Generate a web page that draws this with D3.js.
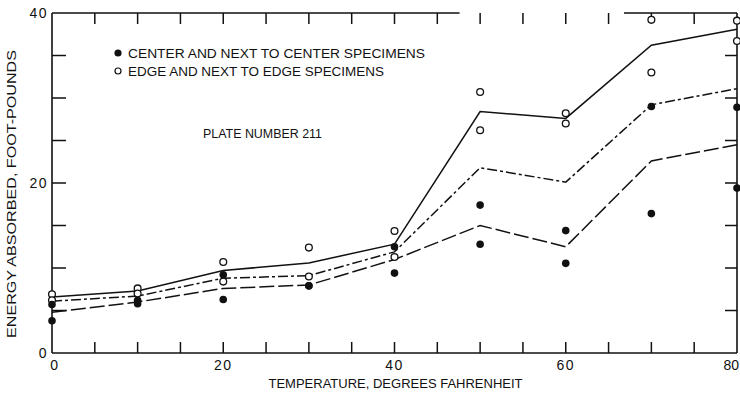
<!DOCTYPE html>
<html>
<head>
<meta charset="utf-8">
<script src="https://cdn.jsdelivr.net/npm/d3@7"></script>
<style>
  html, body { margin: 0; padding: 0; background: #fff; }
  svg { display: block; }
  text { font-family: "Liberation Sans", Arial, Helvetica, sans-serif; fill: #111; }
</style>
</head>
<body>
<svg id="chart" width="740" height="395"></svg>
<script>
// Test temperatures, degrees Fahrenheit
const temps = [0, 10, 20, 30, 40, 50, 60, 70, 80];

// Individual specimens (ft-lb), two per temperature in each group
const centerHigh = [5.7, 6.2, 9.2, 7.9, 12.5, 17.4, 14.4, 29.0, 28.9];
const centerLow  = [3.8, 5.8, 6.3, 7.9, 9.4, 12.8, 10.55, 16.4, 19.4];
const edgeHigh   = [6.9, 7.6, 10.7, 12.4, 14.35, 30.7, 28.2, 39.2, 39.1];
const edgeLow    = [6.2, 7.0, 8.4, 9.0, 11.3, 26.2, 27.0, 33.0, 36.7];

// Average curves
const edgeCurve   = [6.6, 7.3, 9.7, 10.6, 12.8, 28.4, 27.6, 36.2, 38.1];
const allCurve    = [6.1, 6.7, 8.8, 9.1, 11.9, 21.8, 20.1, 29.2, 31.1];
const centerCurve = [4.8, 6.0, 7.6, 8.0, 11.0, 15.0, 12.5, 22.6, 24.5];

// Axis ticks and labels
const xLabelTicks = [0, 20, 40, 60, 80];
const yLabelTicks = [0, 20, 40];
const minorStep = 5;

const legendItems = [
  { text: "CENTER AND NEXT TO CENTER SPECIMENS", filled: true },
  { text: "EDGE AND NEXT TO EDGE SPECIMENS", filled: false }
];
const plateLabel = "PLATE NUMBER 211";
const xTitle = "TEMPERATURE, DEGREES FAHRENHEIT";
const yTitle = "ENERGY ABSORBED, FOOT-POUNDS";

const svg = d3.select("#chart");
const ink = "#111";

const x = d3.scaleLinear().domain([0, 80]).range([52, 737]);
const y = d3.scaleLinear().domain([0, 40]).range([353, 13]);

const minorX = d3.range(0, 80 + 0.001, minorStep);
const minorY = d3.range(0, 40 + 0.001, minorStep);

// Frame: bottom, left, right axes, and the broken top rule
const frame = svg.append("g").attr("stroke", ink).attr("stroke-width", 1.6).attr("fill", "none");
frame.append("line").attr("x1", x(0)).attr("x2", x(80)).attr("y1", y(0)).attr("y2", y(0));
frame.append("line").attr("x1", x(0)).attr("x2", x(0)).attr("y1", y(0)).attr("y2", y(40));
frame.append("line").attr("x1", x(80)).attr("x2", x(80)).attr("y1", y(0)).attr("y2", y(40));
frame.append("line").attr("x1", x(0)).attr("x2", x(47.6)).attr("y1", y(40)).attr("y2", y(40));
frame.append("line").attr("x1", x(66.8)).attr("x2", x(80)).attr("y1", y(40)).attr("y2", y(40));

// Inward ticks on all four sides
const ticks = svg.append("g").attr("stroke", ink).attr("stroke-width", 1.5);
minorX.filter(d => d > 0 && d < 80).forEach(d => {
  ticks.append("line").attr("x1", x(d)).attr("x2", x(d)).attr("y1", y(0)).attr("y2", y(0) - 11);
  ticks.append("line").attr("x1", x(d)).attr("x2", x(d)).attr("y1", y(40)).attr("y2", y(40) + 11);
});
minorY.filter(d => d > 0 && d < 40).forEach(d => {
  ticks.append("line").attr("x1", x(0)).attr("x2", x(0) + 14).attr("y1", y(d)).attr("y2", y(d));
  ticks.append("line").attr("x1", x(80)).attr("x2", x(80) - 12).attr("y1", y(d)).attr("y2", y(d));
});

// Tick labels (the last one is pulled inside the right edge)
svg.append("g").selectAll("text").data(xLabelTicks).join("text")
  .attr("x", d => d === 80 ? 739 : x(d) + (d === 0 ? 3 : 0))
  .attr("y", y(0) + 17)
  .attr("text-anchor", d => d === 80 ? "end" : "middle")
  .attr("font-size", 14)
  .attr("letter-spacing", d => d === 80 ? 0 : 1.5)
  .text(d => d);

svg.append("g").selectAll("text").data(yLabelTicks).join("text")
  .attr("x", x(0) - 4)
  .attr("y", d => y(d) + 5)
  .attr("text-anchor", "end")
  .attr("font-size", 14)
  .attr("letter-spacing", 1.5)
  .text(d => d);

// Axis titles
svg.append("text")
  .attr("x", (x(0) + x(80)) / 2 + 1)
  .attr("y", 388)
  .attr("text-anchor", "middle")
  .attr("font-size", 13)
  .attr("textLength", 254)
  .attr("lengthAdjust", "spacingAndGlyphs")
  .text(xTitle);

svg.append("text")
  .attr("transform", "translate(16,194) rotate(-90)")
  .attr("text-anchor", "middle")
  .attr("font-size", 13)
  .attr("textLength", 288)
  .attr("lengthAdjust", "spacingAndGlyphs")
  .text(yTitle);

// Average curves
const line = d3.line().x((d, i) => x(temps[i])).y(d => y(d));
const curves = [
  { values: edgeCurve, dash: null },
  { values: allCurve, dash: "10,3,3,3" },
  { values: centerCurve, dash: "15,4" }
];
svg.append("g").selectAll("path").data(curves).join("path")
  .attr("d", d => line(d.values))
  .attr("fill", "none")
  .attr("stroke", ink)
  .attr("stroke-width", 1.5)
  .attr("stroke-dasharray", d => d.dash);

// Specimen points
const r = 3.4;
const pts = svg.append("g");
[edgeHigh, edgeLow].forEach(arr => {
  pts.append("g").selectAll("circle").data(arr).join("circle")
    .attr("cx", (d, i) => x(temps[i]))
    .attr("cy", d => y(d))
    .attr("r", r)
    .attr("fill", "#fff")
    .attr("stroke", ink)
    .attr("stroke-width", 1.3);
});
[centerHigh, centerLow].forEach(arr => {
  pts.append("g").selectAll("circle").data(arr).join("circle")
    .attr("cx", (d, i) => x(temps[i]))
    .attr("cy", d => y(d))
    .attr("r", r + 0.4)
    .attr("fill", ink);
});

// Legend
const legend = svg.append("g");
legendItems.forEach((item, i) => {
  const cy = 53 + i * 18;
  legend.append("circle")
    .attr("cx", 118).attr("cy", cy)
    .attr("r", item.filled ? 3.6 : 3)
    .attr("fill", item.filled ? ink : "#fff")
    .attr("stroke", ink)
    .attr("stroke-width", item.filled ? 0 : 1.2);
  legend.append("text")
    .attr("x", 128).attr("y", cy + 4.5)
    .attr("font-size", 12.5)
    .attr("textLength", i === 0 ? 297 : 256)
    .attr("lengthAdjust", "spacingAndGlyphs")
    .text(item.text);
});

svg.append("text")
  .attr("x", 203).attr("y", 138)
  .attr("font-size", 12.5)
  .attr("textLength", 119)
  .attr("lengthAdjust", "spacingAndGlyphs")
  .text(plateLabel);
</script>
</body>
</html>
